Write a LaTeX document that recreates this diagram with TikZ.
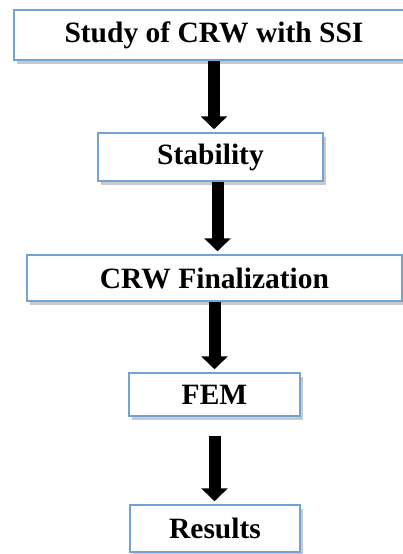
\documentclass[tikz,border=0pt]{standalone}
\usepackage{fontspec}
\setmainfont{Liberation Serif}
\usetikzlibrary{arrows.meta,shadows}
\definecolor{boxblue}{RGB}{115,162,214}

\begin{document}
\begin{tikzpicture}[x=1pt, y=-1pt,
  stepbox/.style={draw=boxblue, line width=1.5pt, fill=white, rectangle, inner sep=0pt,
    font=\fontsize{29.5}{35}\selectfont\bfseries,
    drop shadow={shadow xshift=3pt, shadow yshift=-4pt, opacity=0.3, fill=black!70}},
  flow/.style={line width=12pt, shorten >=3pt, -{Triangle[width=26pt,length=13pt]}}]
  \useasboundingbox (0,0) rectangle (403,554);

  \node [stepbox, minimum width=400pt, minimum height=50pt] (study) at (214,35) {Study of CRW with SSI};
  \node [stepbox, minimum width=225pt, minimum height=48pt] (stab) at (210.5,157) {Stability};
  \node [stepbox, minimum width=375pt, minimum height=46pt] (fin) at (214.5,278) {CRW Finalization};
  \node [stepbox, minimum width=171pt, minimum height=43pt] (fem) at (214.5,394.5) {FEM};
  \node [stepbox, minimum width=170pt, minimum height=47pt] (res) at (215,528.5) {Results};

  \draw [flow] (study.south) -- (study.south |- stab.north);
  \draw [flow] ([xshift=7pt]stab.south) -- ([xshift=7pt]stab.south |- fin.north);
  \draw [flow] (fin.south) -- (fin.south |- fem.north);
  \draw [flow] ([yshift=-19pt]fem.south) -- (fem.south |- res.north);

\end{tikzpicture}
\end{document}
